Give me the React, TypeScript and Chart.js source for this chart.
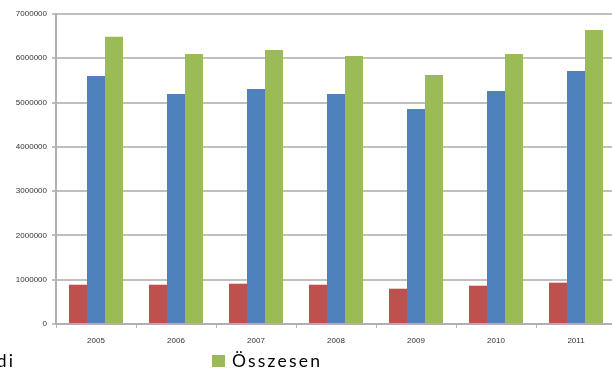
import React, { useEffect, useRef } from "react";
import { Chart, registerables } from "chart.js";

Chart.register(...registerables);

const years = ["2005", "2006", "2007", "2008", "2009", "2010", "2011"];
const kulfoldi = [887000, 887000, 910000, 887000, 797000, 865000, 933000];
const belfoldi = [5600000, 5193000, 5306000, 5193000, 4855000, 5261000, 5713000];
const osszesen = [6487000, 6097000, 6187000, 6052000, 5623000, 6097000, 6639000];
const seriesLabels = ["Külföldi", "Belföldi", "Összesen"];
const seriesColors = ["#C0504D", "#4F81BD", "#9BBB59"];

const legendPlugin = {
  id: "croppedLegend",
  afterDraw(chart: any) {
    const ctx = chart.ctx as CanvasRenderingContext2D;
    const ds = chart.data.datasets;
    ctx.save();
    ctx.font = '17.5px Lato, "Open Sans", sans-serif';
    (ctx as any).letterSpacing = "2.2px";
    ctx.textBaseline = "alphabetic";
    ctx.textAlign = "left";
    const box = 13;
    const boxH = 12;
    const gapText = 7;
    const itemGap = 199;
    const baseline = 367;
    let x = 212;
    for (let i = ds.length - 1; i >= 0; i--) {
      const label = ds[i].label as string;
      const w = ctx.measureText(label).width - 2.2;
      if (i !== ds.length - 1) {
        x = x - itemGap - w - gapText - box;
      }
      ctx.fillStyle = ds[i].backgroundColor as string;
      ctx.fillRect(x, baseline - boxH, box, boxH);
      ctx.fillStyle = "#000";
      ctx.fillText(label, x + box + gapText, baseline);
    }
    ctx.restore();
  },
};

export default function App() {
  const ref = useRef<HTMLCanvasElement | null>(null);
  useEffect(() => {
    if (!ref.current) return;
    const datasets = [kulfoldi, belfoldi, osszesen].map((d, i) => ({
      label: seriesLabels[i],
      data: d,
      backgroundColor: seriesColors[i],
      borderWidth: 0,
      categoryPercentage: 0.675,
      barPercentage: 1,
    }));
    const chart = new Chart(ref.current, {
      type: "bar",
      data: { labels: years, datasets },
      options: {
        animation: false,
        responsive: true,
        maintainAspectRatio: false,
        layout: { padding: { top: 14, right: 4, bottom: 0, left: 0 } },
        plugins: { legend: { display: false }, tooltip: { enabled: false } },
        scales: {
          x: {
            afterFit: (s: any) => {
              s.height = 48;
            },
            grid: {
              display: true,
              drawOnChartArea: false,
              drawTicks: true,
              tickLength: 4,
              offset: true,
              color: "#b5b5b5",
              lineWidth: 1,
            },
            border: { color: "#b0b0b0", width: 2 },
            ticks: {
              color: "#333",
              font: { family: '"Liberation Sans", Arial, sans-serif', size: 8 },
              padding: 8,
            },
          },
          y: {
            min: 0,
            max: 7000000,
            afterFit: (s: any) => {
              s.width = 56;
            },
            grid: {
              color: "#c0c0c0",
              lineWidth: 2,
              tickLength: 4,
            },
            border: { color: "#b0b0b0", width: 2 },
            ticks: {
              stepSize: 1000000,
              color: "#333",
              font: { family: '"Liberation Sans", Arial, sans-serif', size: 8 },
              padding: 5,
              callback: (v: any) => String(v),
            },
          },
        },
      },
      plugins: [legendPlugin],
    });
    return () => chart.destroy();
  }, []);
  return (
    <div
      style={{
        position: "absolute",
        left: 0,
        top: 0,
        width: 612,
        height: 372,
        overflow: "hidden",
        background: "#fff",
      }}
    >
      <div style={{ position: "relative", width: 620, height: 372 }}>
        <canvas ref={ref} />
      </div>
    </div>
  );
}
